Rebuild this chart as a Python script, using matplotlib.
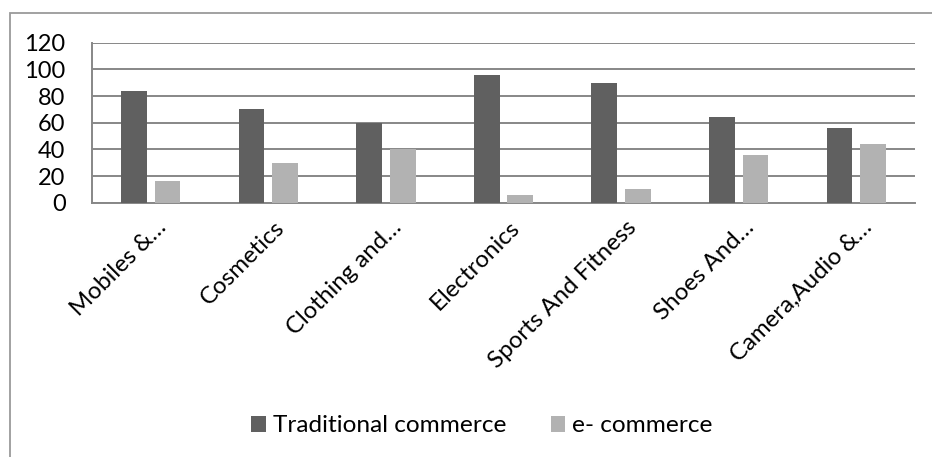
import matplotlib
matplotlib.use("Agg")
import matplotlib.pyplot as plt
import matplotlib.transforms as mtransforms
from matplotlib.patches import Rectangle
import numpy as np

categories = ["Mobiles &…", "Cosmetics", "Clothing and…", "Electronics",
              "Sports And Fitness", "Shoes And…", "Camera,Audio &…"]
traditional = [84, 70, 60, 96, 90, 64, 56]
ecommerce = [16, 30, 40, 6, 10, 36, 44]
series_names = ["Traditional commerce", "e- commerce"]
yticks = [0, 20, 40, 60, 80, 100, 120]

plt.rcParams['font.family'] = ['Lato', 'DejaVu Sans']

W, H = 932, 457
fig = plt.figure(figsize=(W / 100, H / 100), dpi=100)

# outer chart frame (only left and top edges fall inside the image)
fig.patches.append(Rectangle((10 / W, -0.1), 1.2, 1 - 13 / H + 0.1,
                             transform=fig.transFigure, fill=False,
                             edgecolor='#9a9a9a', linewidth=1.3))

ax = fig.add_axes([92 / W, 1 - 202.7 / H, (915 - 92) / W, 160 / H])

x = np.arange(len(categories))
bw = 0.218
off = 0.143
ax.bar(x - off, traditional, width=bw, color='#606060', label=series_names[0], zorder=3)
ax.bar(x + off, ecommerce, width=bw, color='#b2b2b2', label=series_names[1], zorder=3)

ax.set_xlim(-0.5, len(categories) - 0.5)
ax.set_ylim(0, 120)
ax.set_yticks(yticks)
ax.set_yticklabels([str(v) for v in yticks], fontsize=17)
ax.yaxis.grid(True, color='#878787', linewidth=1.4, zorder=0)
ax.set_axisbelow(True)

for s in ['top', 'right']:
    ax.spines[s].set_visible(False)
for s in ['left', 'bottom']:
    ax.spines[s].set_color('#878787')
    ax.spines[s].set_linewidth(1.4)

ax.tick_params(axis='y', length=0, pad=19)
ax.tick_params(axis='x', length=0, pad=10)
ax.set_xticks(x)
ax.set_xticklabels(categories, rotation=45, ha='right', va='top',
                   rotation_mode='anchor', fontsize=17.3)
shift = mtransforms.ScaledTranslation(5 / 100, 0, fig.dpi_scale_trans)
for lbl in ax.get_xticklabels():
    lbl.set_transform(lbl.get_transform() + shift)

fig.legend(loc='center', bbox_to_anchor=(482 / W, 1 - 426 / H),
           ncol=2, frameon=False, fontsize=17.6, handlelength=0.6,
           handleheight=0.6, handletextpad=0.3, columnspacing=1.8)

fig.savefig("out.png", dpi=100)
